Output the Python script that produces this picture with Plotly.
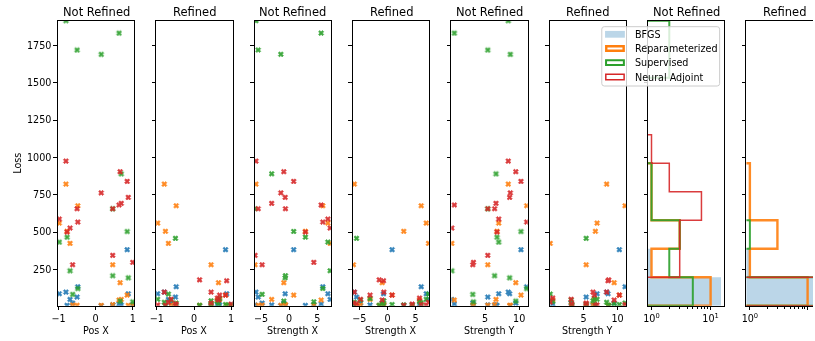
import numpy as np
import plotly.graph_objects as go

# ---- test cases (shared by every method) ----
pos_x      = [-0.80, 0.66, 0.85, 0.15, 0.88, 0.69, 0.63, -0.50, 0.46, -0.98, -0.48, -0.69, -0.77, 0.46, -0.62, 1.00]
strength_x = [-5.90, -0.94, 0.82, -1.47, -0.70, -3.10, 5.70, -5.50, -0.65, 6.90, 6.00, 7.30, 2.90, -6.06, -4.80, 4.40]
strength_y = [8.40, 9.50, 10.26, 8.70, 8.60, 6.60, 0.50, 5.40, 6.40, 7.00, 11.10, 0.13, 6.75, 5.40, 3.20, 3.30]

# ---- losses per method, before refinement ----
bfgs_not_refined   = [98, 24, 382, 7, 87, 12, 18, 65, 10, 87, 134, 49, 9, 12, 24, 14]
reparam_not_refined = [821, 161, 78, 9, 9, 49, 45, 10, 14, 560, 676, 424, 505, 281, 11, 10]
superv_not_refined = [1915, 38, 504, 1690, 194, 890, 1832, 1719, 208, 433, 122, 241, 466, 656, 83, 33]
adjoint_not_refined = [975, 904, 839, 762, 732, 692, 681, 656, 656, 587, 567, 527, 500, 344, 281, 297]

# ---- losses per method, after refinement ----
bfgs_refined    = [98, 24, 382, 7, 87, 12, 18, 65, 10, 87, 134, 49, 9, 12, 24, 14]
reparam_refined = [821, 161, 78, 9, 9, 49, 45, 10, 14, 560, 676, 424, 505, 281, 11, 10]
superv_refined  = [30, 20, 15, 10, 8, 55, 35, 458, 40, 50, 25, 85, 12, 18, 45, 10]
adjoint_refined = [98, 45, 78, 180, 174, 78, 58, 20, 98, 12, 15, 30, 10, 25, 50, 18]

method_names = ["BFGS", "Reparameterized", "Supervised", "Neural Adjoint"]
method_colors = ["#1f77b4", "#ff7f0e", "#2ca02c", "#d62728"]
step_widths = [0, 2.4, 2.0, 1.5]

not_refined = [bfgs_not_refined, reparam_not_refined, superv_not_refined, adjoint_not_refined]
refined = [bfgs_refined, reparam_refined, superv_refined, adjoint_refined]

titles = ["Not Refined", "Refined"] * 4
x_labels = ["Pos X", "Pos X", "Strength X", "Strength X", "Strength Y", "Strength Y", "", ""]

W, H = 815, 341
FONT = "DejaVu Sans"

all_losses = np.concatenate([np.array(v, float) for v in not_refined + refined])
y_lo, y_hi = all_losses.min(), all_losses.max()
edges = np.linspace(y_lo, y_hi, 11)

# panel geometry in pixels
left0, pitch, pw = 52.3, 99.35, 77.2
top_px, bot_px = 20.7, 305.7
ydom = [1 - bot_px / H, 1 - top_px / H]


def px(v):
    return v / W


def py(v):
    return 1 - v / H


fig = go.Figure()
layout = dict(
    width=W, height=H, margin=dict(l=0, r=0, t=0, b=0),
    paper_bgcolor="white", plot_bgcolor="white",
    showlegend=False, font=dict(family=FONT, size=9.6, color="black"),
)

axis_common = dict(showline=True, linecolor="black", linewidth=0.9, mirror=True,
                   ticks="outside", ticklen=3.5, tickwidth=0.8, tickcolor="black",
                   showgrid=False, zeroline=False,
                   tickfont=dict(family=FONT, size=9.6, color="black"))

x_params = [pos_x, pos_x, strength_x, strength_x, strength_y, strength_y]
x_ranges = [[-1.02, 1.04], [-1.02, 1.04], [-6.15, 7.45], [-6.15, 7.45], [0.05, 11.25], [0.05, 11.25]]
x_ticks = [[-1, 0, 1], [-1, 0, 1], [-5, 0, 5], [-5, 0, 5], [5, 10], [5, 10]]

annotations = []
shapes = []

for k in range(8):
    xa = "xaxis" if k == 0 else f"xaxis{k+1}"
    ya = "yaxis" if k == 0 else f"yaxis{k+1}"
    xref = "x" if k == 0 else f"x{k+1}"
    yref = "y" if k == 0 else f"y{k+1}"
    l = left0 + k * pitch
    r = l + pw
    dom = [px(l), min(px(r), 1.0)]

    yaxis = dict(axis_common, domain=ydom, anchor=xref, range=[y_lo, y_hi],
                 tickmode="array", tickvals=[250, 500, 750, 1000, 1250, 1500, 1750],
                 showticklabels=(k == 0))
    if k == 7:
        yaxis["mirror"] = False
    layout[ya] = yaxis

    if k < 6:
        losses = not_refined if k % 2 == 0 else refined
        for m in range(4):
            fig.add_trace(go.Scatter(
                x=x_params[k], y=losses[m], mode="markers", xaxis=xref, yaxis=yref,
                marker=dict(symbol="x", size=4.6, color=method_colors[m],
                            line=dict(width=0.6, color=method_colors[m])),
                opacity=0.9, name=method_names[m], cliponaxis=True))
        layout[xa] = dict(axis_common, domain=dom, anchor=yref, range=x_ranges[k],
                          tickmode="array", tickvals=x_ticks[k],
                          ticktext=[str(t).replace("-", "\u2212") for t in x_ticks[k]])
    else:
        losses = not_refined if k == 6 else refined
        counts_all = [np.histogram(np.array(v, float), bins=edges)[0] for v in losses]
        cmax = max(c.max() for c in counts_all)
        span = np.log10(cmax)
        lo, hi = -0.05 * span, span * 1.05
        frac = (min(r, W) - l) / pw
        hi_vis = lo + (hi - lo) * frac
        floor = 1e-3
        for m in range(4):
            c = np.where(counts_all[m] > 0, counts_all[m], floor).astype(float)
            xs, ys = [floor], [edges[0]]
            for i, n in enumerate(c):
                xs += [n, n]
                ys += [edges[i], edges[i + 1]]
            xs.append(floor)
            ys.append(edges[-1])
            if m == 0:
                fig.add_trace(go.Scatter(
                    x=xs, y=ys, mode="lines", fill="toself", xaxis=xref, yaxis=yref,
                    fillcolor="rgba(31,119,180,0.3)", line=dict(width=0),
                    name=method_names[m]))
            else:
                fig.add_trace(go.Scatter(
                    x=xs, y=ys, mode="lines", xaxis=xref, yaxis=yref,
                    line=dict(color=method_colors[m], width=step_widths[m]),
                    opacity=0.9, name=method_names[m]))
        layout[xa] = dict(axis_common, type="log", domain=dom, anchor=yref,
                          range=[lo, hi_vis], tickmode="array", tickvals=[1, 10],
                          ticktext=["10<sup>0</sup>", "10<sup>1</sup>"],
                          minor=dict(ticks="outside", ticklen=2, tickwidth=0.6,
                                     tickcolor="black", tickmode="array",
                                     tickvals=[2, 3, 4, 5, 6, 7, 8, 9, 20]))

    # panel title
    annotations.append(dict(text=titles[k], x=px(l + pw / 2), y=py(11.7), xref="paper", yref="paper",
                            xanchor="center", yanchor="middle", showarrow=False,
                            font=dict(family=FONT, size=11.5, color="black")))
    if x_labels[k]:
        annotations.append(dict(text=x_labels[k], x=px(l + pw / 2), y=py(330.5), xref="paper", yref="paper",
                                xanchor="center", yanchor="middle", showarrow=False,
                                font=dict(family=FONT, size=9.6, color="black")))

annotations.append(dict(text="Loss", x=px(11.7), y=py((top_px + bot_px) / 2), xref="paper", yref="paper",
                        xanchor="center", yanchor="middle", showarrow=False, textangle=-90,
                        font=dict(family=FONT, size=9.6, color="black")))

# legend box
bx0, bx1, by0, by1, rad = 601.7, 720.7, 26.7, 86.0, 2.5
path = (f"M {px(bx0 + rad)},{py(by0)} L {px(bx1 - rad)},{py(by0)} Q {px(bx1)},{py(by0)} {px(bx1)},{py(by0 + rad)} "
        f"L {px(bx1)},{py(by1 - rad)} Q {px(bx1)},{py(by1)} {px(bx1 - rad)},{py(by1)} "
        f"L {px(bx0 + rad)},{py(by1)} Q {px(bx0)},{py(by1)} {px(bx0)},{py(by1 - rad)} "
        f"L {px(bx0)},{py(by0 + rad)} Q {px(bx0)},{py(by0)} {px(bx0 + rad)},{py(by0)} Z")
shapes.append(dict(type="path", path=path, xref="paper", yref="paper", layer="above",
                   fillcolor="rgba(255,255,255,0.8)", line=dict(color="#cccccc", width=1)))
row_y = [34.3, 48.5, 62.7, 77.0]
for m in range(4):
    yc = row_y[m]
    if m == 0:
        shapes.append(dict(type="rect", xref="paper", yref="paper", layer="above",
                           x0=px(605), x1=px(625), y0=py(yc + 3.4), y1=py(yc - 3.4),
                           fillcolor="rgba(31,119,180,0.3)", line=dict(width=0)))
    else:
        w = step_widths[m]
        shapes.append(dict(type="rect", xref="paper", yref="paper", layer="above",
                           x0=px(605 + w / 2), x1=px(625 - w / 2), y0=py(yc + 3.4 - w / 2), y1=py(yc - 3.4 + w / 2),
                           fillcolor="rgba(255,255,255,0)", line=dict(color=method_colors[m], width=w)))
    annotations.append(dict(text=method_names[m], x=px(633.3), y=py(yc), xref="paper", yref="paper",
                            xanchor="left", yanchor="middle", showarrow=False,
                            font=dict(family=FONT, size=9.6, color="black")))

layout["annotations"] = annotations
layout["shapes"] = shapes
fig.update_layout(**layout)
fig.write_html("out.html")
